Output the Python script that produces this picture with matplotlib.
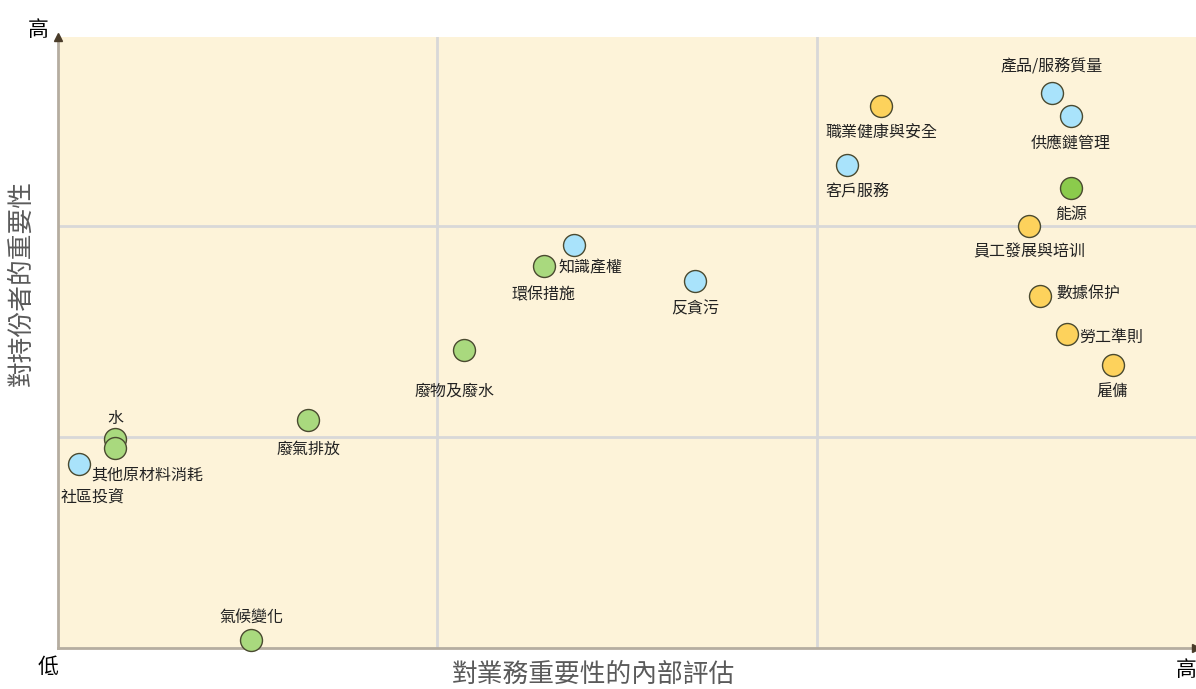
import matplotlib
matplotlib.use('Agg')
import matplotlib.pyplot as plt

plt.rcParams['font.family'] = ['Noto Sans CJK TC', 'DejaVu Sans']

# topic names, internal importance (x), stakeholder importance (y), group
topics = ['產品/服務質量', '供應鏈管理', '職業健康與安全', '客戶服務', '能源',
          '員工發展與培训', '數據保护', '勞工準則', '雇傭', '知識產權', '環保措施',
          '反貪污', '廢物及廢水', '廢氣排放', '水', '其他原材料消耗', '社區投資', '氣候變化']
x_vals = [2.62, 2.67, 2.17, 2.08, 2.67, 2.56, 2.59, 2.66, 2.78, 1.36, 1.28,
          1.68, 1.07, 0.66, 0.15, 0.15, 0.055, 0.51]
y_vals = [2.63, 2.52, 2.57, 2.29, 2.18, 2.00, 1.67, 1.49, 1.34, 1.91, 1.81,
          1.74, 1.41, 1.08, 0.99, 0.95, 0.87, 0.04]
groups = ['product', 'product', 'staff', 'product', 'energy', 'staff', 'staff',
          'staff', 'staff', 'product', 'env', 'product', 'env', 'env', 'env',
          'env', 'product', 'env']
# label offsets in pixels (dx, dy) and alignment
label_pos = [(0, 26, 'center'), (0, -27, 'center'), (0, -27, 'center'), (10, -27, 'center'),
             (0, -26, 'center'), (0, -26, 'center'), (16, 2, 'left'), (12, -4, 'left'),
             (0, -27, 'center'), (-15, -23, 'left'), (0, -29, 'center'), (0, -28, 'center'),
             (-9, -41, 'center'), (0, -29, 'center'), (0, 21, 'center'), (-24, -28, 'left'),
             (-18, -33, 'left'), (0, 22, 'center')]

colors = {'product': '#A9E3FB', 'staff': '#FDD25C', 'env': '#A9D97E', 'energy': '#8BCB4C'}

fig = plt.figure(figsize=(11.96, 6.89), dpi=100)
ax = fig.add_axes([58 / 1196, 41 / 689, 1138 / 1196, 611 / 689])
ax.set_facecolor('#FDF3D9')
ax.set_xlim(0, 3)
ax.set_ylim(0, 611 / 211)

for v in [1, 2]:
    ax.axvline(v, color='#D8D8D8', lw=2, zorder=1)
    ax.axhline(v, color='#D8D8D8', lw=2, zorder=1)

for i in range(len(topics)):
    ax.scatter(x_vals[i], y_vals[i], s=250, color=colors[groups[i]],
               edgecolor='#4A4A30', linewidth=1, zorder=3, clip_on=False)
    dx, dy, ha = label_pos[i]
    ax.annotate(topics[i], (x_vals[i], y_vals[i]), xytext=(dx * 0.72, dy * 0.72),
                textcoords='offset points', ha=ha, va='center', fontsize=11.5,
                color='#222222', zorder=4)

for s in ['top', 'right']:
    ax.spines[s].set_visible(False)
for s in ['left', 'bottom']:
    ax.spines[s].set_color('#B5ADA0')
    ax.spines[s].set_linewidth(2)
ax.set_xticks([])
ax.set_yticks([])

# arrow heads
ax.plot(0, 1.0, marker='^', color='#4A3C2A', markersize=6, transform=ax.transAxes,
        clip_on=False, zorder=5)
ax.plot(1.0, 0, marker='>', color='#4A3C2A', markersize=6, transform=ax.transAxes,
        clip_on=False, zorder=5)

fig.text(38 / 1196, 1 - 30 / 689, '高', fontsize=15, ha='center', va='center')
fig.text(48 / 1196, 1 - 667 / 689, '低', fontsize=15, ha='center', va='center')
fig.text(1186 / 1196, 1 - 670 / 689, '高', fontsize=15, ha='center', va='center')
fig.text(593 / 1196, 1 - 675 / 689, '對業務重要性的內部評估', fontsize=18.5,
         ha='center', va='center', color='#5A5A5A')
fig.text(22 / 1196, 1 - 283 / 689, '對持份者的重要性', fontsize=18.5, rotation=90,
         ha='center', va='center', color='#5A5A5A')

fig.savefig('out.png', dpi=100, facecolor='white')
